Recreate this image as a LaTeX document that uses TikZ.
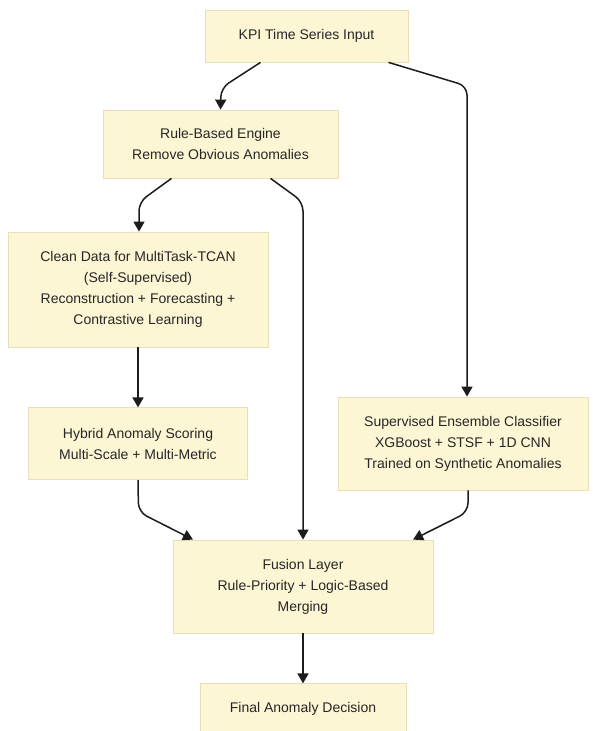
\documentclass[tikz,border=0pt]{standalone}
\usepackage{fontspec}
\setmainfont{Liberation Sans}
\usetikzlibrary{positioning, arrows.meta}
\definecolor{boxfill}{RGB}{253,246,212}
\definecolor{boxline}{RGB}{232,222,186}
\definecolor{linkcol}{RGB}{28,28,28}

\begin{document}
\begin{tikzpicture}[
    x=1pt, y=-1pt,
    >={Triangle[length=10pt, width=11pt]},
    box/.style={draw=boxline, fill=boxfill, line width=0.8pt, inner sep=0pt, align=center, font=\fontsize{14}{21}\selectfont, text=black!85},
    arrow/.style={->, line width=1.5pt, draw=linkcol, rounded corners=9pt}
]
\useasboundingbox (0,0) rectangle (593,731);
\node[box, minimum width=203pt, minimum height=52pt] (kpi) at (306.5,36) {KPI Time Series Input};
\node[box, minimum width=235pt, minimum height=68pt] (rule) at (220.5,144) {Rule-Based Engine\\Remove Obvious Anomalies};
\node[box, minimum width=260pt, minimum height=115pt] (clean) at (138,289.5) {Clean Data for MultiTask-TCAN\\(Self-Supervised)\\Reconstruction + Forecasting +\\Contrastive Learning};
\node[box, minimum width=219pt, minimum height=72pt, below=60pt of clean] (hybrid) {Hybrid Anomaly Scoring\\Multi-Scale + Multi-Metric};
\node[box, minimum width=250pt, minimum height=93pt] (sup) at (463,443.5) {Supervised Ensemble Classifier\\XGBoost + STSF + 1D CNN\\Trained on Synthetic Anomalies};
\node[box, minimum width=260pt, minimum height=93pt] (fusion) at (303,586.5) {Fusion Layer\\Rule-Priority + Logic-Based\\Merging};
\node[box, minimum width=206pt, minimum height=50pt, below=50pt of fusion] (final) {Final Anomaly Decision};

\draw[arrow] ([xshift=-46pt]kpi.south) -- (221,88) -- (rule.north);
\draw[arrow] ([xshift=82pt]kpi.south) -- (467,86) -- ([xshift=4pt]sup.north);
\draw[arrow] ([xshift=-49pt]rule.south) -- (139,202) -- ([xshift=1pt]clean.north);
\draw[arrow] ([xshift=50pt]rule.south) -- (303,202) -- (fusion.north);
\draw[arrow] (clean.south) -- (clean.south |- hybrid.north);
\draw[arrow] (hybrid.south) -- (138.5,512) -- ([xshift=-110pt]fusion.north);
\draw[arrow] ([xshift=5pt]sup.south) -- (468,512) -- ([xshift=110pt]fusion.north);
\draw[arrow] (fusion.south) -- (final.north);
\end{tikzpicture}
\end{document}
